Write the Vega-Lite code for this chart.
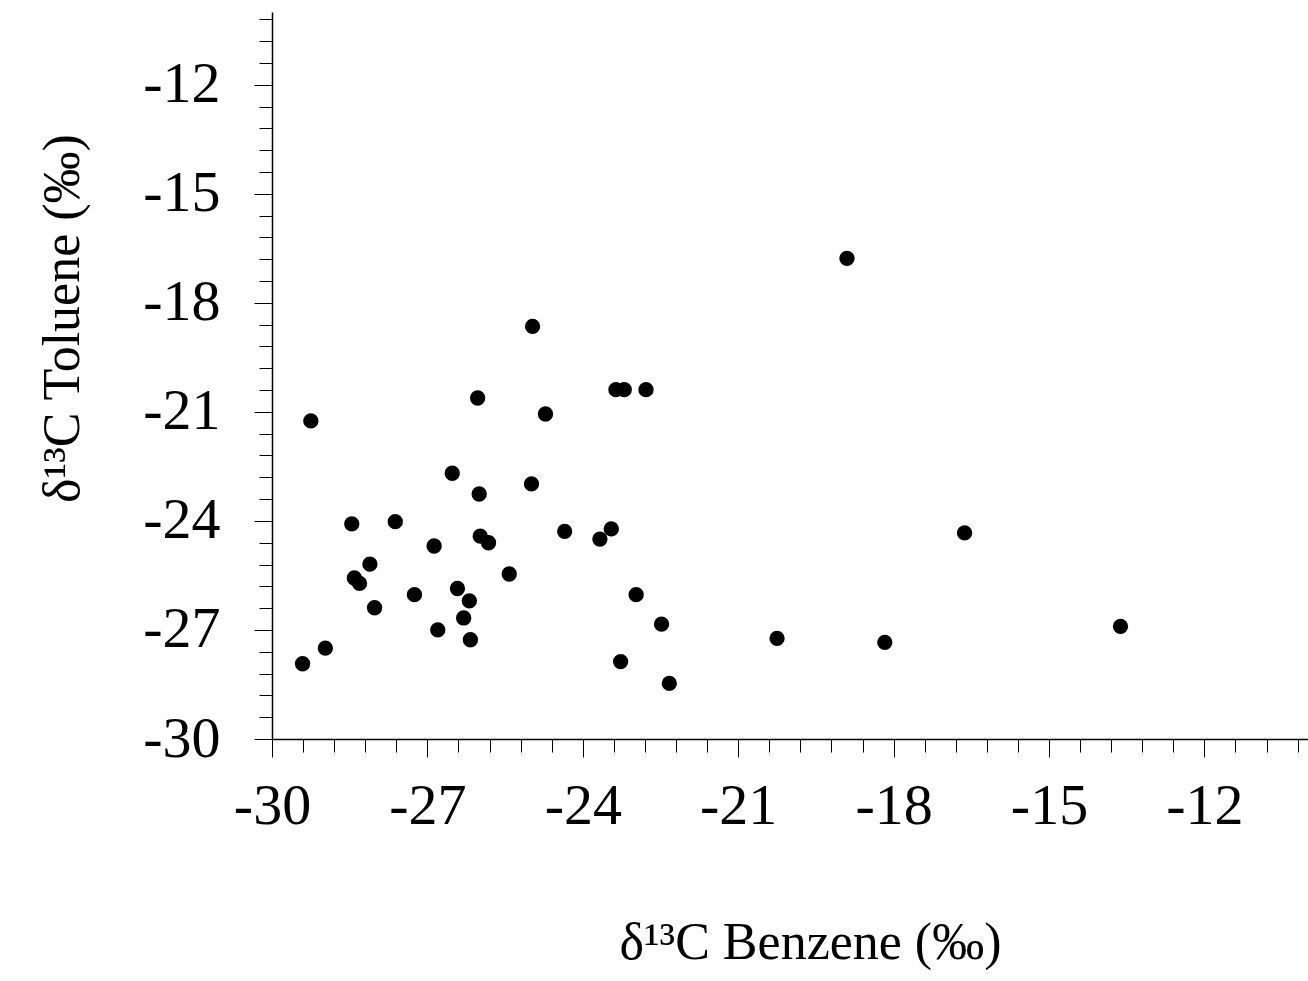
{
  "$schema": "https://vega.github.io/schema/vega-lite/v6.json",
  "width": 1036,
  "height": 727,
  "autosize": "none",
  "padding": {"left": 272, "top": 12, "right": 0, "bottom": 242},
  "background": "white",
  "config": {
    "view": {"stroke": null},
    "font": "Liberation Serif",
    "axis": {
      "grid": false,
      "domainColor": "black",
      "domainWidth": 1.5,
      "tickColor": "black",
      "tickWidth": 1,
      "labelFont": "Liberation Serif",
      "labelFontSize": 58,
      "labelColor": "black",
      "labelOverlap": false,
      "labelFlush": false,
      "labelBound": false,
      "titleFont": "Liberation Serif",
      "titleFontSize": 52,
      "titleFontWeight": "normal",
      "titleColor": "black"
    }
  },
  "data": {
    "values": [
      {"benzene": -24.97, "toluene": -18.65},
      {"benzene": -26.03, "toluene": -20.62},
      {"benzene": -24.72, "toluene": -21.06},
      {"benzene": -29.25, "toluene": -21.25},
      {"benzene": -26.52, "toluene": -22.69},
      {"benzene": -26.0, "toluene": -23.26},
      {"benzene": -24.99, "toluene": -22.98},
      {"benzene": -28.46, "toluene": -24.08},
      {"benzene": -27.62, "toluene": -24.02},
      {"benzene": -26.87, "toluene": -24.69},
      {"benzene": -25.98, "toluene": -24.42},
      {"benzene": -25.82, "toluene": -24.6},
      {"benzene": -24.35, "toluene": -24.29},
      {"benzene": -28.11, "toluene": -25.19},
      {"benzene": -28.41, "toluene": -25.57},
      {"benzene": -28.31, "toluene": -25.72},
      {"benzene": -25.42, "toluene": -25.46},
      {"benzene": -26.42, "toluene": -25.86},
      {"benzene": -27.25, "toluene": -26.03},
      {"benzene": -26.19, "toluene": -26.2},
      {"benzene": -28.02, "toluene": -26.39},
      {"benzene": -26.3, "toluene": -26.67},
      {"benzene": -26.8, "toluene": -27.0},
      {"benzene": -26.17, "toluene": -27.27},
      {"benzene": -28.97, "toluene": -27.5},
      {"benzene": -29.41, "toluene": -27.93},
      {"benzene": -23.36, "toluene": -20.39},
      {"benzene": -23.2, "toluene": -20.39},
      {"benzene": -22.78, "toluene": -20.39},
      {"benzene": -23.45, "toluene": -24.22},
      {"benzene": -23.67, "toluene": -24.5},
      {"benzene": -22.97, "toluene": -26.03},
      {"benzene": -22.48, "toluene": -26.84},
      {"benzene": -23.27, "toluene": -27.87},
      {"benzene": -22.33, "toluene": -28.47},
      {"benzene": -18.9, "toluene": -16.78},
      {"benzene": -16.63, "toluene": -24.33},
      {"benzene": -20.25, "toluene": -27.23},
      {"benzene": -18.17, "toluene": -27.34},
      {"benzene": -13.62, "toluene": -26.9}
    ]
  },
  "mark": {"type": "circle", "size": 235, "color": "black", "opacity": 1},
  "encoding": {
    "x": {
      "field": "benzene",
      "type": "quantitative",
      "scale": {"domain": [-30, -10], "nice": false, "zero": false},
      "axis": {
        "values": [-30, -29.4, -28.8, -28.2, -27.6, -27, -26.4, -25.8, -25.2, -24.6, -24, -23.4, -22.8, -22.2, -21.6, -21, -20.4, -19.8, -19.2, -18.6, -18, -17.4, -16.8, -16.2, -15.6, -15, -14.4, -13.8, -13.2, -12.6, -12, -11.4, -10.8, -10.2],
        "tickSize": {"condition": {"test": "abs(datum.value - round(datum.value/3)*3) < 0.01", "value": 18}, "value": 13},
        "labelExpr": "abs(datum.value - round(datum.value/3)*3) < 0.01 ? toString(datum.value) : ''",
        "labelPadding": 20,
        "title": "δ¹³C Benzene (‰)",
        "titleX": 538,
        "titleY": 219,
        "titleBaseline": "alphabetic",
        "titleAlign": "center"
      }
    },
    "y": {
      "field": "toluene",
      "type": "quantitative",
      "scale": {"domain": [-30, -10], "nice": false, "zero": false},
      "axis": {
        "values": [-30, -29.4, -28.8, -28.2, -27.6, -27, -26.4, -25.8, -25.2, -24.6, -24, -23.4, -22.8, -22.2, -21.6, -21, -20.4, -19.8, -19.2, -18.6, -18, -17.4, -16.8, -16.2, -15.6, -15, -14.4, -13.8, -13.2, -12.6, -12, -11.4, -10.8, -10.2],
        "tickSize": {"condition": {"test": "abs(datum.value - round(datum.value/3)*3) < 0.01", "value": 18}, "value": 13},
        "labelExpr": "abs(datum.value - round(datum.value/3)*3) < 0.01 ? toString(datum.value) : ''",
        "labelPadding": 34,
        "title": "δ¹³C Toluene (‰)",
        "titleX": -194,
        "titleY": 306,
        "titleAngle": -90,
        "titleBaseline": "alphabetic",
        "titleAlign": "center"
      }
    }
  }
}
